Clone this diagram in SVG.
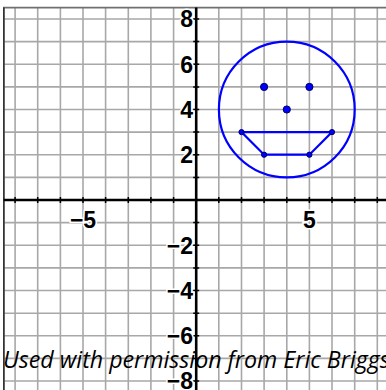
<svg xmlns="http://www.w3.org/2000/svg" width="386" height="390" viewBox="0 0 386 390">
<style>
.g{stroke:#a8a8a8;stroke-width:1.6;fill:none}
.ax{stroke:#000;stroke-width:2.6;fill:none}
.tk{stroke:#000;stroke-width:1.5}
.lb{font-family:"Liberation Sans",Arial,sans-serif;font-weight:bold;font-size:23px;fill:#000;stroke:#fff;stroke-width:3;paint-order:stroke}
.shape{stroke:#0000ff;stroke-width:2.2;fill:none}
.pt{fill:#0000ff;stroke:#000060;stroke-width:1}
.note{font-family:"Open Sans","Noto Sans",sans-serif;font-style:italic;font-size:23.2px;fill:#000}
</style>
<rect x="0" y="0" width="386" height="390" fill="#fff"/>
<g id="grid">
<path class="g" d="M15.1 7.6V390M37.7 7.6V390M60.4 7.6V390M83 7.6V390M105.6 7.6V390M128.3 7.6V390M150.9 7.6V390M173.6 7.6V390M218.8 7.6V390M241.5 7.6V390M264.1 7.6V390M286.8 7.6V390M309.4 7.6V390M332 7.6V390M354.7 7.6V390M377.3 7.6V390"/>
<path class="g" d="M3.8 19H386M3.8 41.6H386M3.8 64.2H386M3.8 86.9H386M3.8 109.5H386M3.8 132.1H386M3.8 154.7H386M3.8 177.4H386M3.8 222.6H386M3.8 245.3H386M3.8 267.9H386M3.8 290.5H386M3.8 313.2H386M3.8 335.8H386M3.8 358.4H386M3.8 381H386"/>
<path d="M3.8 390V7.6H386" stroke="#707070" stroke-width="1.6" fill="none"/>
<path d="M3.8 390V7.6" stroke="#333" stroke-width="1.6" fill="none"/>
</g>
<g id="axes">
<path class="ax" d="M3.8 200H386M196.2 7.6V390"/>
<path class="tk" d="M15.1 197v6M37.7 197v6M60.4 197v6M83 197v6M105.6 197v6M128.3 197v6M150.9 197v6M173.6 197v6M218.8 197v6M241.5 197v6M264.1 197v6M286.8 197v6M309.4 197v6M332 197v6M354.7 197v6M377.3 197v6"/>
<path class="tk" d="M193.2 19h6M193.2 41.6h6M193.2 64.2h6M193.2 86.9h6M193.2 109.5h6M193.2 132.1h6M193.2 154.7h6M193.2 177.4h6M193.2 222.6h6M193.2 245.3h6M193.2 267.9h6M193.2 290.5h6M193.2 313.2h6M193.2 335.8h6M193.2 358.4h6M193.2 381h6"/>
</g>
<g id="labels">
<text class="lb" x="193" y="27.3" text-anchor="end">8</text>
<text class="lb" x="193" y="72.5" text-anchor="end">6</text>
<text class="lb" x="193" y="117.8" text-anchor="end">4</text>
<text class="lb" x="193" y="163" text-anchor="end">2</text>
<text class="lb" x="193" y="253.6" text-anchor="end">−2</text>
<text class="lb" x="193" y="298.8" text-anchor="end">−4</text>
<text class="lb" x="193" y="344.1" text-anchor="end">−6</text>
<text class="lb" x="193" y="389.3" text-anchor="end">−8</text>
<text class="lb" x="83" y="228.3" text-anchor="middle">−5</text>
<text class="lb" x="309.4" y="228.3" text-anchor="middle">5</text>
</g>
<g id="face">
<circle class="shape" cx="286.8" cy="109.5" r="67.9"/>
<polygon class="shape" points="241.5,132.1 332,132.1 309.4,154.7 264.1,154.7"/>
<circle class="pt" cx="264.1" cy="86.9" r="3.6"/>
<circle class="pt" cx="309.4" cy="86.9" r="3.6"/>
<circle class="pt" cx="286.8" cy="109.5" r="3.6"/>
<circle class="pt" cx="241.5" cy="132.1" r="2.6"/>
<circle class="pt" cx="332" cy="132.1" r="2.6"/>
<circle class="pt" cx="309.4" cy="154.7" r="2.6"/>
<circle class="pt" cx="264.1" cy="154.7" r="2.6"/>
</g>
<text class="note" x="3" y="368">Used with permission from Eric Briggs</text>
</svg>
